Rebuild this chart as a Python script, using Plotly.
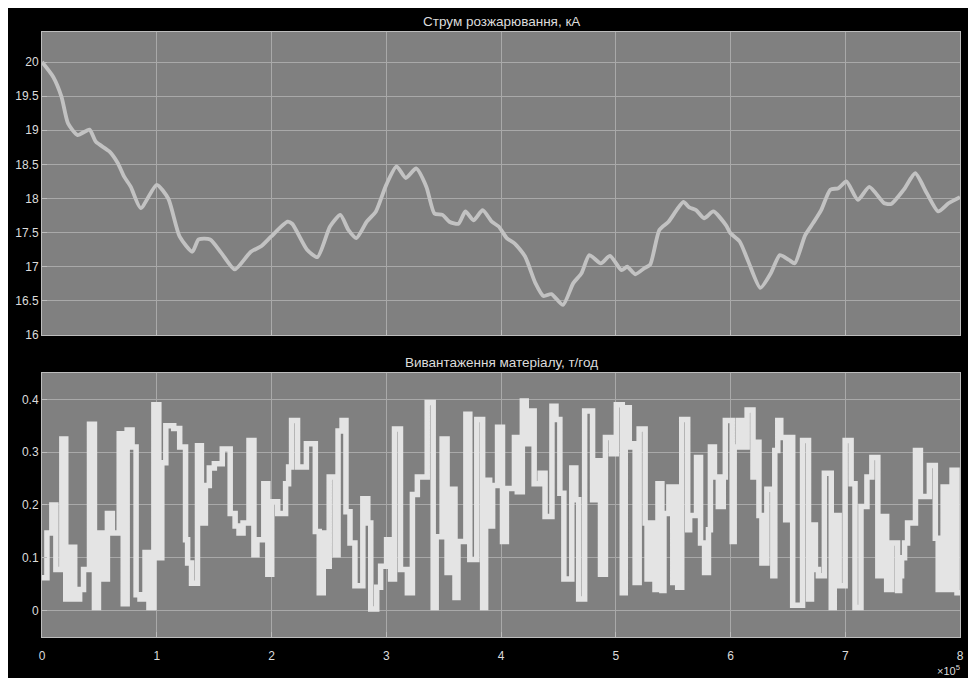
import plotly.graph_objects as go
from plotly.subplots import make_subplots

# ---- Top signal: Струм розжарювання, кА (time in units of 1e5) ----
t_current = [0.0, 0.098, 0.17, 0.227, 0.31, 0.414, 0.47, 0.587, 0.66, 0.716, 0.774, 0.86, 1.0, 1.1,
             1.2, 1.31, 1.365, 1.465, 1.564, 1.68, 1.82, 1.91, 1.995, 2.14, 2.18, 2.31, 2.40, 2.51,
             2.60, 2.67, 2.74, 2.83, 2.91, 3.0, 3.09, 3.17, 3.26, 3.35, 3.42, 3.49, 3.55, 3.63, 3.69,
             3.76, 3.84, 3.92, 3.98, 4.05, 4.12, 4.21, 4.30, 4.37, 4.44, 4.54, 4.63, 4.70, 4.77, 4.87,
             4.95, 5.05, 5.10, 5.17, 5.25, 5.30, 5.38, 5.46, 5.53, 5.59, 5.64, 5.70, 5.77, 5.85, 5.96,
             6.00, 6.08, 6.15, 6.26, 6.35, 6.43, 6.51, 6.56, 6.65, 6.72, 6.79, 6.87, 6.94, 7.01, 7.11,
             7.21, 7.34, 7.40, 7.51, 7.61, 7.71, 7.81, 7.90, 8.0]
v_current = [20.0, 19.78, 19.49, 19.10, 18.93, 19.01, 18.83, 18.69, 18.52, 18.32, 18.17, 17.86, 18.2, 18.0,
             17.44, 17.22, 17.40, 17.40, 17.20, 16.96, 17.22, 17.30, 17.44, 17.66, 17.63, 17.25, 17.14, 17.59,
             17.76, 17.54, 17.42, 17.66, 17.81, 18.20, 18.47, 18.30, 18.44, 18.17, 17.78, 17.76, 17.66, 17.63, 17.81,
             17.68, 17.83, 17.66, 17.59, 17.42, 17.34, 17.15, 16.76, 16.57, 16.60, 16.44, 16.76, 16.90, 17.17, 17.05,
             17.16, 16.95, 17.0, 16.89, 16.98, 17.03, 17.54, 17.66, 17.83, 17.95, 17.87, 17.83, 17.71, 17.81, 17.61,
             17.49, 17.37, 17.10, 16.69, 16.90, 17.17, 17.10, 17.05, 17.46, 17.64, 17.83, 18.13, 18.15, 18.25, 17.98,
             18.17, 17.93, 17.92, 18.13, 18.37, 18.08, 17.81, 17.93, 18.02]

# ---- Bottom signal: Вивантаження матеріалу, т/год (step signal) ----
t_load = [0.0, 0.043, 0.086, 0.121, 0.173, 0.207, 0.242, 0.285, 0.328, 0.362, 0.414, 0.457, 0.492, 0.535,
          0.570, 0.613, 0.673, 0.708, 0.742, 0.785, 0.820, 0.854, 0.898, 0.932, 0.975, 1.018, 1.044, 1.079,
          1.148, 1.200, 1.251, 1.269, 1.303,
          1.355, 1.389, 1.424, 1.458, 1.502, 1.571, 1.640, 1.683, 1.717, 1.752, 1.804, 1.847, 1.873, 1.933,
          1.968, 2.002, 2.054, 2.123, 2.149, 2.175, 2.227, 2.304, 2.382, 2.416, 2.451, 2.477, 2.503, 2.554,
          2.580, 2.615,
          2.649, 2.684, 2.727, 2.796, 2.839, 2.865, 2.917, 2.951, 3.003, 3.038, 3.072, 3.124, 3.184, 3.228,
          3.271, 3.357, 3.409, 3.435, 3.487, 3.530, 3.556, 3.599, 3.625, 3.694, 3.728, 3.789, 3.840, 3.866,
          3.901, 3.927,
          3.970, 4.013, 4.047, 4.117, 4.142, 4.186, 4.220, 4.255, 4.289, 4.341, 4.384, 4.444, 4.479, 4.513,
          4.548, 4.617, 4.652, 4.677, 4.729, 4.798, 4.824, 4.867, 4.910, 4.962, 5.005, 5.057, 5.083, 5.118,
          5.135, 5.169, 5.204, 5.256, 5.273,
          5.316, 5.342, 5.368, 5.402, 5.420, 5.463, 5.497, 5.515, 5.540, 5.575, 5.627, 5.644, 5.704, 5.739,
          5.774, 5.808, 5.825, 5.860, 5.894, 5.937, 5.955, 6.015, 6.032, 6.067, 6.101, 6.145, 6.196, 6.214,
          6.248, 6.274, 6.317, 6.369, 6.386, 6.412, 6.438, 6.481, 6.507, 6.542,
          6.628, 6.680, 6.706, 6.740, 6.766, 6.818, 6.878, 6.904, 6.947, 6.999, 7.051, 7.085, 7.137, 7.189,
          7.232, 7.284, 7.318, 7.361, 7.405, 7.456, 7.474, 7.491, 7.517, 7.543, 7.612, 7.655, 7.733, 7.785,
          7.810, 7.853, 7.896, 7.931, 7.974, 8.0]
v_load = [0.062, 0.147, 0.200, 0.078, 0.325, 0.022, 0.120, 0.022, 0.040, 0.078, 0.353, 0.006, 0.147, 0.060,
          0.184, 0.147, 0.335, 0.013, 0.342, 0.310, 0.030, 0.022, 0.110, 0.006, 0.390, 0.100, 0.280, 0.350,
          0.345, 0.310, 0.134, 0.090, 0.052,
          0.312, 0.166, 0.237, 0.270, 0.278, 0.306, 0.184, 0.160, 0.147, 0.166, 0.322, 0.106, 0.134, 0.240,
          0.069, 0.206, 0.184, 0.240, 0.272, 0.360, 0.272, 0.316, 0.150, 0.034, 0.147, 0.084, 0.253, 0.106,
          0.340, 0.360,
          0.187, 0.128, 0.047, 0.212, 0.166, 0.003, 0.044, 0.084, 0.134, 0.060, 0.344, 0.078, 0.034, 0.220,
          0.253, 0.394, 0.006, 0.140, 0.325, 0.072, 0.230, 0.025, 0.131, 0.372, 0.097, 0.362, 0.006, 0.247,
          0.160, 0.237,
          0.347, 0.131, 0.231, 0.328, 0.225, 0.397, 0.316, 0.378, 0.240, 0.260, 0.178, 0.387, 0.362, 0.222,
          0.060, 0.270, 0.210, 0.022, 0.378, 0.210, 0.284, 0.069, 0.328, 0.297, 0.390, 0.034, 0.384, 0.310,
          0.316, 0.053, 0.344, 0.166, 0.060,
          0.166, 0.040, 0.240, 0.038, 0.184, 0.234, 0.053, 0.234, 0.044, 0.362, 0.153, 0.180, 0.290, 0.128,
          0.072, 0.153, 0.310, 0.253, 0.197, 0.253, 0.360, 0.131, 0.310, 0.360, 0.310, 0.380, 0.253, 0.319,
          0.180, 0.090, 0.230, 0.066, 0.303, 0.360, 0.328, 0.172, 0.328, 0.010,
          0.322, 0.022, 0.162, 0.078, 0.066, 0.260, 0.006, 0.180, 0.047, 0.322, 0.240, 0.006, 0.197, 0.253,
          0.290, 0.066, 0.178, 0.040, 0.128, 0.038, 0.066, 0.100, 0.128, 0.166, 0.303, 0.216, 0.275, 0.137,
          0.040, 0.234, 0.040, 0.266, 0.034, 0.034]

x_tick_vals = [0, 1, 2, 3, 4, 5, 6, 7, 8]
x_tick_text = ["0", "1", "2", "3", "4", "5", "6", "7", "8"]
top_y_ticks = [16, 16.5, 17, 17.5, 18, 18.5, 19, 19.5, 20]
top_y_text = ["16", "16.5", "17", "17.5", "18", "18.5", "19", "19.5", "20"]
bot_y_ticks = [0, 0.1, 0.2, 0.3, 0.4]
bot_y_text = ["0", "0.1", "0.2", "0.3", "0.4"]

title_top = "Струм розжарювання, кА"
title_bottom = "Вивантаження матеріалу, т/год"

FONT = "Liberation Sans, Arial, sans-serif"
TXT = "#dcdcdc"
GRID = "#a9a9a9"
AX = "#bdbdbd"
BG = "#808080"

fig = make_subplots(rows=2, cols=1, shared_xaxes=False, vertical_spacing=0.0)

fig.add_trace(go.Scatter(x=t_current, y=v_current, mode="lines",
                         line=dict(color="#c2c2c2", width=3.8, shape="spline", smoothing=0.6),
                         showlegend=False, hoverinfo="skip"), row=1, col=1)
fig.add_trace(go.Scatter(x=t_load, y=v_load, mode="lines",
                         line=dict(color="#e4e4e4", width=5.5, shape="hv"),
                         showlegend=False, hoverinfo="skip"), row=2, col=1)

common_x = dict(range=[0, 8], tickvals=x_tick_vals, showgrid=True, gridcolor=GRID, gridwidth=1,
                zeroline=False, showline=True, linecolor=AX, linewidth=1, mirror=True,
                ticks="inside", ticklen=5, tickcolor=AX, tickfont=dict(family=FONT, size=12, color=TXT))
fig.update_xaxes(**common_x, domain=[0, 1])
fig.update_xaxes(showticklabels=False, row=1, col=1)
fig.update_xaxes(ticktext=x_tick_text, ticklabelstandoff=8, ticklabeloverflow="allow", row=2, col=1)

common_y = dict(showgrid=True, gridcolor=GRID, gridwidth=1, zeroline=False, showline=True, linecolor=AX,
                linewidth=1, mirror=True, ticks="inside", ticklen=5, tickcolor=AX,
                tickfont=dict(family=FONT, size=12, color=TXT))
fig.update_yaxes(**common_y)
fig.update_yaxes(range=[16, 20.44], tickvals=top_y_ticks, ticktext=top_y_text, domain=[0.4992, 1.0], row=1, col=1)
fig.update_yaxes(range=[-0.05, 0.45], tickvals=bot_y_ticks, ticktext=bot_y_text, domain=[0.0, 0.4364], row=2, col=1)

fig.update_layout(
    width=960, height=670,
    margin=dict(l=34, r=4, t=24, b=41),
    paper_bgcolor="black", plot_bgcolor=BG,
    annotations=[
        dict(text=title_top, xref="x domain", yref="y domain", x=0.5, y=1.0, yanchor="bottom", yshift=1,
             showarrow=False, font=dict(family=FONT, size=13.5, color=TXT)),
        dict(text=title_bottom, xref="x2 domain", yref="y2 domain", x=0.5, y=1.0, yanchor="bottom", yshift=1,
             showarrow=False, font=dict(family=FONT, size=13.5, color=TXT)),
        dict(text="×10<sup>5</sup>", xref="x2 domain", yref="y2 domain", x=1.0, y=0, xanchor="right", yanchor="top",
             yshift=-24, xshift=2, showarrow=False, font=dict(family=FONT, size=11, color=TXT)),
    ],
)

fig.write_html("out.html")
